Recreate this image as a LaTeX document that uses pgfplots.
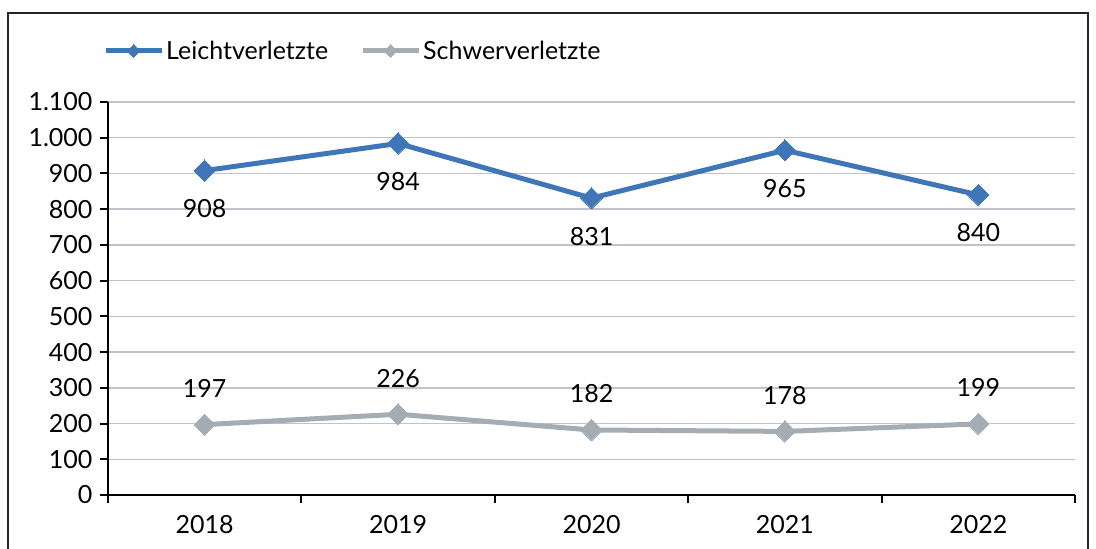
\documentclass[border=0pt]{standalone}
\usepackage{fontspec}
\setmainfont{Lato}
\usepackage{pgfplots}
\pgfplotsset{compat=1.18}
\definecolor{cblue}{RGB}{62,118,184}
\definecolor{cgray}{RGB}{165,172,180}
\definecolor{cgrid}{RGB}{190,195,205}
\begin{document}
\begin{tikzpicture}
\useasboundingbox (0bp,0bp) rectangle (1096bp,-549bp);
\draw[line width=1.5bp, black!85] (8bp,-570bp) -- (8bp,-13bp) -- (1088bp,-13bp) -- (1088bp,-570bp);
\begin{axis}[
  at={(108bp,-495bp)}, anchor=south west,
  scale only axis, width=967bp, height=393bp,
  xmin=-0.5, xmax=4.5, ymin=0, ymax=1100,
  xtick={-0.5,0.5,1.5,2.5,3.5,4.5},
  x tick label as interval,
  xticklabels={2018,2019,2020,2021,2022},
  ytick={0,100,...,1100},
  axis x line*=bottom, axis y line*=left,
  axis line style={line width=2.5bp, black},
  tick style={line width=2bp, black},
  tick align=outside,
  major tick length=8bp,
  ymajorgrids, grid style={cgrid, line width=1.5bp},
  font=\fontsize{25bp}{29bp}\selectfont,
  /pgf/number format/.cd, 1000 sep={.}, assume math mode=true, /pgfplots/.cd,
  yticklabel style={xshift=-4bp},
  xticklabel style={yshift=-9bp},
  legend columns=2,
  legend style={at={(0,1)}, anchor=south west, yshift=37bp, xshift=-8bp, draw=none, fill=none,
    font=\fontsize{25bp}{29bp}\selectfont,
    /tikz/every even column/.append style={column sep=30bp}},
  legend image code/.code={\draw[mark repeat=2,mark phase=2,mark size=4.5bp] plot coordinates {(0bp,0bp) (28bp,0bp) (56bp,0bp)};},
  nodes near coords,
  every node near coord/.append style={font=\fontsize{25bp}{29bp}\selectfont, black, anchor=center},
]
\addplot[cblue, line width=5bp, mark=square*, mark size=7.5bp, mark options={fill=cblue, line width=0bp, rotate=45},
  every node near coord/.append style={yshift=-38bp}]
  coordinates {(0,908) (1,984) (2,831) (3,965) (4,840)};
\addlegendentry{Leichtverletzte}
\addplot[cgray, line width=5bp, mark=square*, mark size=7.5bp, mark options={fill=cgray, line width=0bp, rotate=45},
  every node near coord/.append style={yshift=36bp}]
  coordinates {(0,197) (1,226) (2,182) (3,178) (4,199)};
\addlegendentry{Schwerverletzte}
\end{axis}
\end{tikzpicture}
\end{document}
